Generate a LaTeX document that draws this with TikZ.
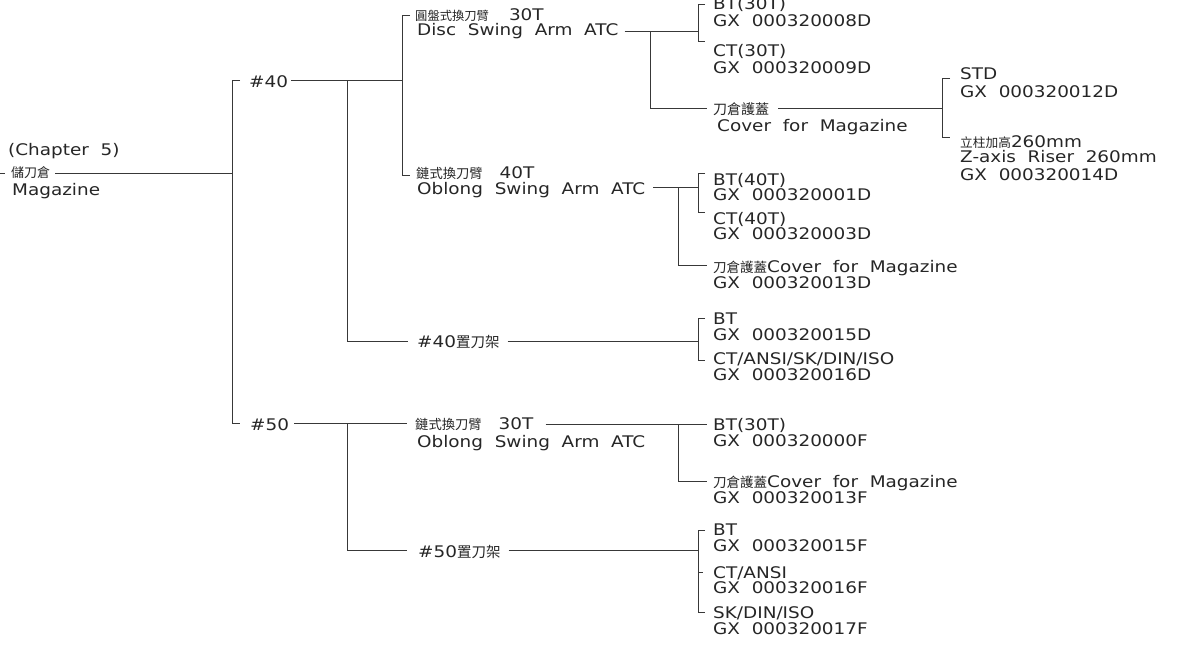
\documentclass[tikz,border=0pt]{standalone}
\usepackage{fontspec}
\setmainfont{DejaVu Sans}[FakeStretch=1.15,WordSpace=2]
\newfontfamily\cjkfont{Noto Sans CJK TC}
\newcommand\zhtxt[2]{{\fontsize{#1pt}{#1pt}\selectfont\cjkfont #2}}
\begin{document}
\begin{tikzpicture}[x=1pt,y=-1pt,
  lbl/.style={anchor=base west, inner sep=0pt, font=\fontsize{16pt}{16pt}\selectfont, text=black!85},
  ln/.style={line width=1pt, draw=black!78}]
\useasboundingbox (0,0) rectangle (1184,648);

% ---- text nodes ----
\node[lbl] (chap) at (8,155) {(Chapter 5)};
\node[lbl] (rootzh) at (11,177.5) {\zhtxt{13}{儲刀倉}};
\node[lbl] (mag) at (12,195) {Magazine};

\node[lbl] (h40) at (249,87) {\#40};
\node[lbl] (h50) at (250,430) {\#50};

\node[lbl] (d1) at (415,20) {\zhtxt{12.3}{圓盤式換刀臂}\hspace{20pt}30T};
\node[lbl] (d2) at (417,35) {Disc Swing Arm ATC};
\node[lbl] (bt30) at (713,9) {BT(30T)};
\node[lbl] (gx8) at (713,26.5) {GX 000320008D};
\node[lbl] (ct30) at (713,56) {CT(30T)};
\node[lbl] (gx9) at (713,73) {GX 000320009D};
\node[lbl] (cov1) at (713,114) {\zhtxt{14}{刀倉護蓋}};
\node[lbl] (cov2) at (717,131) {Cover for Magazine};
\node[lbl] (std) at (960,79) {STD};
\node[lbl] (gx12) at (960,97) {GX 000320012D};
\node[lbl] (ris1) at (960,147) {\zhtxt{12.7}{立柱加高}260mm};
\node[lbl] (ris2) at (960,162) {Z-axis Riser 260mm};
\node[lbl] (gx14) at (960,180) {GX 000320014D};

\node[lbl] (o40a) at (416,178.5) {\zhtxt{13.3}{鏈式換刀臂}\hspace{17pt}40T};
\node[lbl] (o40b) at (417,194) {Oblong Swing Arm ATC};
\node[lbl] (bt40) at (713,185) {BT(40T)};
\node[lbl] (gx1) at (713,200) {GX 000320001D};
\node[lbl] (ct40) at (713,224) {CT(40T)};
\node[lbl] (gx3) at (713,239) {GX 000320003D};
\node[lbl] (cv40) at (713,272) {\zhtxt{13.5}{刀倉護蓋}Cover for Magazine};
\node[lbl] (gx13d) at (713,288) {GX 000320013D};

\node[lbl] (r40) at (417,347) {\#40\zhtxt{14.5}{置刀架}};
\node[lbl] (bt15) at (713,324) {BT};
\node[lbl] (gx15d) at (713,340) {GX 000320015D};
\node[lbl] (ct16) at (713,364) {CT/ANSI/SK/DIN/ISO};
\node[lbl] (gx16d) at (713,380) {GX 000320016D};

\node[lbl] (o50a) at (415,429) {\zhtxt{13.3}{鏈式換刀臂}\hspace{17pt}30T};
\node[lbl] (o50b) at (417,447) {Oblong Swing Arm ATC};
\node[lbl] (bt50) at (713,430) {BT(30T)};
\node[lbl] (gx0f) at (713,446) {GX 000320000F};
\node[lbl] (cv50) at (713,487) {\zhtxt{13.5}{刀倉護蓋}Cover for Magazine};
\node[lbl] (gx13f) at (713,503) {GX 000320013F};

\node[lbl] (r50) at (418,557) {\#50\zhtxt{14.5}{置刀架}};
\node[lbl] (bt15f) at (713,535) {BT};
\node[lbl] (gx15f) at (713,551) {GX 000320015F};
\node[lbl] (ct16f) at (713,578) {CT/ANSI};
\node[lbl] (gx16f) at (713,593) {GX 000320016F};
\node[lbl] (sk) at (713,618) {SK/DIN/ISO};
\node[lbl] (gx17f) at (713,634) {GX 000320017F};

% ---- junction coordinates ----
\coordinate (jroot) at (232,173);
\coordinate (j40) at (232,80);
\coordinate (j50) at (232,423);
\coordinate (k40) at (347,80);
\coordinate (m40) at (402,80);
\coordinate (k50) at (347,423);
\coordinate (jd) at (650,31);
\coordinate (bd) at (698,31);
\coordinate (jc) at (942,108);
\coordinate (jo) at (678,187);
\coordinate (bo) at (698,187);
\coordinate (b40r) at (698,341);
\coordinate (jo50) at (678,424);
\coordinate (b50r) at (698,550);

% ---- connectors ----
\draw[ln] (0,173) -- ([xshift=-6pt]rootzh.west |- jroot);
\draw[ln] (rootzh.east |- jroot) ++(5,0) -- (jroot);
\draw[ln] ([xshift=8pt]j40) -- (j40) -- (j50) -- ([xshift=8pt]j50);
\draw[ln] (h40.east |- j40) ++(3,0) -- (m40);
\draw[ln] (h50.east |- j50) ++(5,0) -- (407,423);
\draw[ln] (k40) -- (347,341) -- (408,341);
\draw[ln] (r40.east |- b40r) ++(8,0) -- (b40r);
\draw[ln] (k50) -- (347,550) -- (407,550);
\draw[ln] (r50.east |- b50r) ++(8,0) -- (b50r);

% Disc / Oblong 40T bracket
\draw[ln] (410,15) -- (402,15) -- (402,175) -- (410,175);
\draw[ln] (d2.east |- bd) ++(6,0) -- (bd);
\draw[ln] (jd) -- (650,108) -- (707,108);
\draw[ln] (cov1.east |- jc) ++(9,0) -- (jc);
\draw[ln] (705,4) -- (698,4) -- (698,41) -- (705,41);
\draw[ln] (950,78) -- (942,78) -- (942,137) -- (950,137);

% Oblong 40T
\draw[ln] (o40b.east |- bo) ++(8,0) -- (bo);
\draw[ln] (705,173) -- (698,173) -- (698,212) -- (705,212);
\draw[ln] (jo) -- (678,265) -- (707,265);

% #40 tool rack
\draw[ln] (705,318) -- (698,318) -- (698,360) -- (705,360);

% Oblong 30T (#50)
\draw[ln] (o50a.east |- jo50) ++(12,0) -- (707,424);
\draw[ln] (jo50) -- (678,481) -- (707,481);

% #50 tool rack
\draw[ln] (705,530) -- (698,530) -- (698,612) -- (705,612);
\draw[ln] (698,572) -- (703,572);
\end{tikzpicture}
\end{document}
